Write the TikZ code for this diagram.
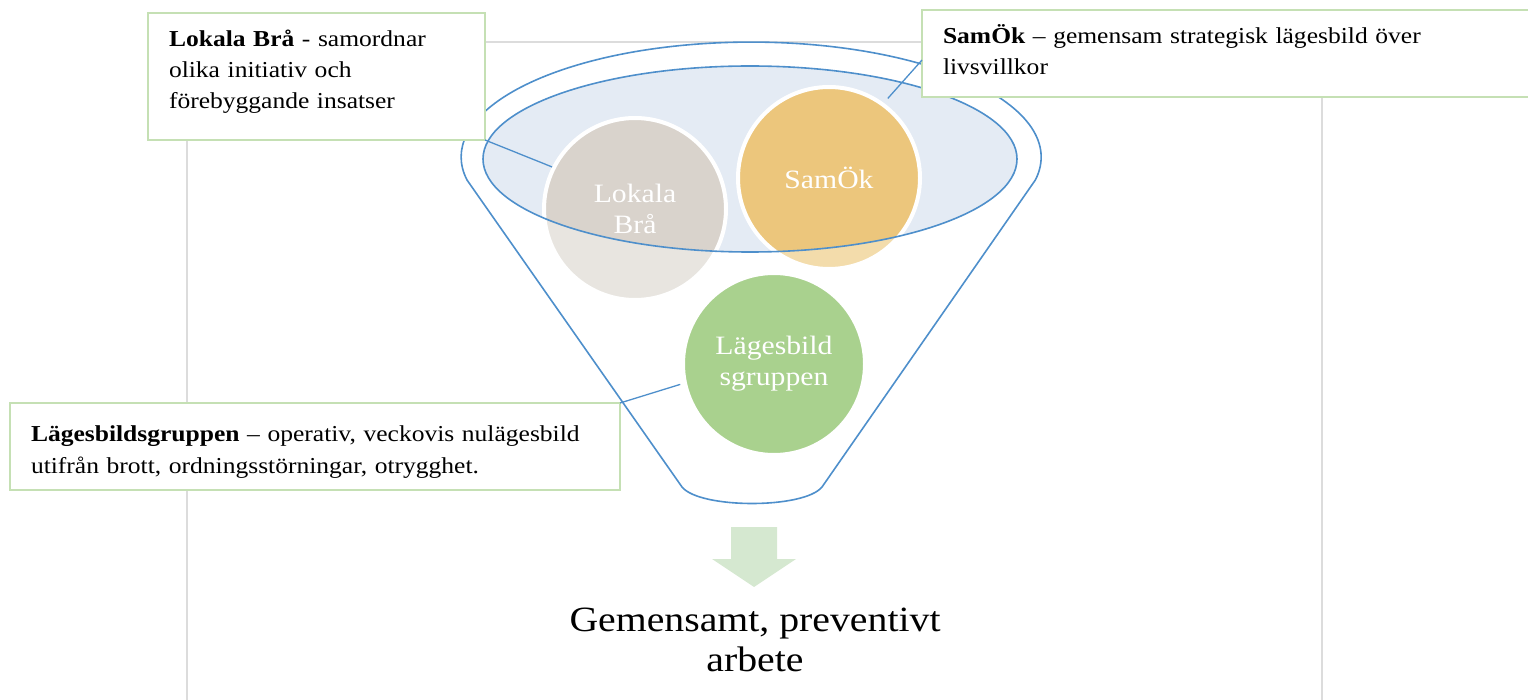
\documentclass[tikz,border=0pt]{standalone}
\usepackage{fontspec}
\setmainfont{Liberation Serif}[FakeStretch=1.12]
\usetikzlibrary{calc}
\definecolor{funnelblue}{HTML}{4E8FCB}
\definecolor{boxgreen}{HTML}{C5E0B4}
\definecolor{gridgrey}{HTML}{DCDCDC}
\definecolor{ellfill}{HTML}{E4EBF4}
\definecolor{brownD}{HTML}{D9D3CC}
\definecolor{brownL}{HTML}{E8E5E0}
\definecolor{goldD}{HTML}{ECC67C}
\definecolor{goldL}{HTML}{F3DCAB}
\definecolor{greenC}{HTML}{A9D18E}
\definecolor{arrowgreen}{HTML}{D5E8D0}
\begin{document}
\begin{tikzpicture}[x=1pt,y=-1pt,
  infobox/.style={draw=boxgreen, line width=2.5pt, fill=white, align=left, inner xsep=21pt, inner ysep=0pt, outer sep=0pt, anchor=north west, font=\fontsize{22.8}{31}\selectfont},
  ring/.style={circle, draw=white, line width=4pt, minimum size=182pt, inner sep=0pt, outer sep=0pt, text=white, align=center, font=\fontsize{26.5}{31}\selectfont},
  blueline/.style={draw=funnelblue, line width=1.6pt},
  gridline/.style={draw=gridgrey, line width=1.5pt}]
\useasboundingbox (0,0) rectangle (1528,700);
% background grid lines
\draw[gridline] (485,42) -- (922,42);
\draw[gridline] (187,140) -- (187,700);
\draw[gridline] (1322,97) -- (1322,700);
% funnel body
\draw[blueline, line join=round] (682,487) -- (467,180)
  arc[start angle=191.5, end angle=-11.5, x radius=290pt, y radius=115pt]
  -- (822,487) .. controls (804,509) and (700,509) .. cycle;
% inner ellipse fill
\fill[ellfill] (750,159) ellipse[x radius=267pt, y radius=93pt];
% circle fills
\fill[brownL] (635,209) circle[radius=91pt];
\fill[goldL] (829,178) circle[radius=91pt];
\begin{scope}
  \clip (750,159) ellipse[x radius=267pt, y radius=93pt];
  \fill[brownD] (635,209) circle[radius=91pt];
  \fill[goldD] (829,178) circle[radius=91pt];
\end{scope}
\node[ring] (c1) at (635,209) {Lokala\\Brå};
\node[ring] (c2) at (829,178) {SamÖk};
\node[ring, fill=greenC] (c3) at (774,364) {Lägesbild\\sgruppen};
% inner ellipse outline
\draw[blueline] (750,159) ellipse[x radius=267pt, y radius=93pt];
% boxes
\node[infobox, text width=295pt, minimum height=127pt] (b1) at (148,13)
  {\textbf{Lokala Brå} - samordnar\\olika initiativ och\\förebyggande insatser\rule[-14pt]{0pt}{1pt}};
\node[infobox, text width=600pt, minimum height=87pt] (b2) at (922,10)
  {\textbf{SamÖk} – gemensam strategisk lägesbild över\\livsvillkor\rule[-7pt]{0pt}{1pt}};
\node[infobox, text width=568pt, minimum height=87pt] (b3) at (10,403)
  {\rule{0pt}{26pt}\textbf{Lägesbildsgruppen} – operativ, veckovis nulägesbild\\[1pt]utifrån brott, ordningsstörningar, otrygghet.};
% connectors
\draw[blueline, line width=1.3pt, shorten >=2pt] (b1.south east) -- (c1.153);
\draw[blueline, line width=1.3pt, shorten >=8pt] ($(b2.north west)!0.575!(b2.south west)$) -- (c2.54);
\draw[blueline, line width=1.3pt, shorten >=5pt] (b3.north east) -- (c3.192);
% result arrow
\fill[arrowgreen] (731,527) -- (777,527) -- (777,559) -- (796,559) -- (754,587) -- (712,559) -- (731,559) -- cycle;
\node[font=\fontsize{35.5}{40}\selectfont, align=center] (out) at (755,640) {Gemensamt, preventivt\\arbete};
\end{tikzpicture}
\end{document}
